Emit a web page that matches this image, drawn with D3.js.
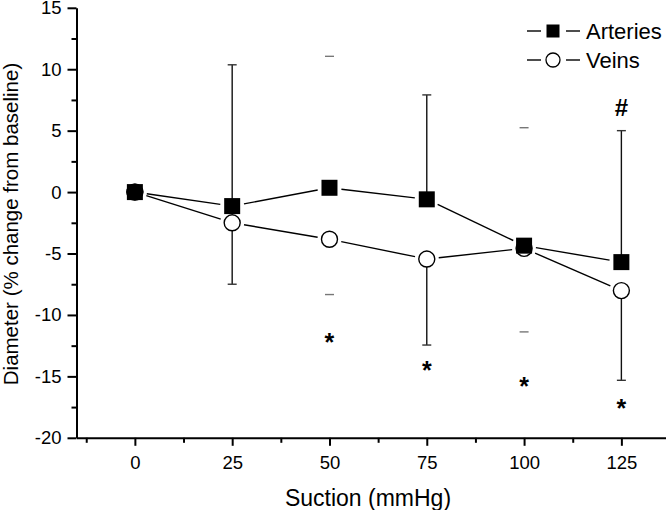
<!DOCTYPE html>
<html>
<head>
<meta charset="utf-8">
<script src="https://cdn.jsdelivr.net/npm/d3@7"></script>
<style>
  html, body { margin: 0; padding: 0; background: #fff; }
  svg { display: block; font-family: "Liberation Sans", Arial, sans-serif; }
</style>
</head>
<body>
<svg id="chart" width="666" height="510"></svg>
<script>
// ---- data ----
const suction = [0, 25, 50, 75, 100, 125];
const arteries = [0, -1.14, 0.35, -0.59, -4.36, -5.7];
const arteriesSD = [0, 11.5, 10.7, 8.5, 9.6, 10.7];   // drawn upward
const veins = [0, -2.5, -3.84, -5.45, -4.58, -8.02];
const veinsSD = [0, 5.0, 4.5, 7.0, 6.8, 7.3];          // drawn downward
const starX = [50, 75, 100, 125];
const starY = [-11.8, -14.1, -15.4, -17.2];
const hashX = [125];
const hashY = [6.9];
const xTicks = [0, 25, 50, 75, 100, 125];
const xMinor = [-12.5, 12.5, 37.5, 62.5, 87.5, 112.5];
const yTicks = [15, 10, 5, 0, -5, -10, -15, -20];
const yMinor = [12.5, 7.5, 2.5, -2.5, -7.5, -12.5, -17.5];
const seriesNames = ["Arteries", "Veins"];

// ---- scales ----
const svg = d3.select("#chart");
const x = d3.scaleLinear().domain([-15, 140]).range([76.5, 76.5 + 155 * 3.892]);
const y = d3.scaleLinear().domain([-20, 15]).range([437.8, 7.8]);

// ---- axes ----
const gx = svg.append("g").attr("transform", `translate(0,${y(-20)})`);
gx.call(d3.axisBottom(x).tickValues(xTicks).tickSize(8).tickSizeOuter(0).tickPadding(10).tickFormat(d => String(d)));
const gxm = svg.append("g").attr("transform", `translate(0,${y(-20)})`);
gxm.call(d3.axisBottom(x).tickValues(xMinor).tickSize(5).tickSizeOuter(0).tickFormat(""));
gxm.select(".domain").remove();

const gy = svg.append("g").attr("transform", `translate(${x(-15)},0)`);
gy.call(d3.axisLeft(y).tickValues(yTicks).tickSize(9).tickSizeOuter(0).tickPadding(6).tickFormat(d => String(d)));
const gym = svg.append("g").attr("transform", `translate(${x(-15)},0)`);
gym.call(d3.axisLeft(y).tickValues(yMinor).tickSize(5).tickSizeOuter(0).tickFormat(""));
gym.select(".domain").remove();

svg.selectAll(".domain").attr("stroke", "#000").attr("stroke-width", 2);
svg.selectAll(".tick line").attr("stroke", "#000").attr("stroke-width", 2);
svg.selectAll(".tick text").attr("font-size", 18.5).attr("fill", "#000")
  .attr("font-family", "Liberation Sans, Arial, sans-serif");

// axis titles
svg.append("text").attr("x", 368).attr("y", 506).attr("text-anchor", "middle")
  .attr("font-size", 23).attr("fill", "#000").text("Suction (mmHg)");
svg.append("text").attr("transform", `translate(18,224) rotate(-90)`).attr("text-anchor", "middle")
  .attr("font-size", 20.5).attr("fill", "#000").text("Diameter (% change from baseline)");

// ---- error bars ----
const hiddenStems = [50, 100];
const capW = 4.5;
function errorBar(xv, y0, y1, faint) {
  const px = x(xv);
  const g = svg.append("g");
  if (!faint) {
    g.append("line").attr("x1", px).attr("x2", px).attr("y1", y(y0)).attr("y2", y(y1))
      .attr("stroke", "#111").attr("stroke-width", 1.4);
  }
  g.append("line").attr("x1", px - capW).attr("x2", px + capW).attr("y1", y(y1)).attr("y2", y(y1))
    .attr("stroke", faint ? "#777" : "#333").attr("stroke-width", 1.4);
}
suction.forEach((s, i) => {
  if (s === 0) return;
  const faint = hiddenStems.includes(s);
  errorBar(s, arteries[i], arteries[i] + arteriesSD[i], faint);
  errorBar(s, veins[i], veins[i] - veinsSD[i], faint);
});

// ---- connecting lines with gaps ----
const gap = 12;
function gappedLine(vals) {
  for (let i = 0; i < vals.length - 1; i++) {
    const x0 = x(suction[i]), y0 = y(vals[i]);
    const x1 = x(suction[i + 1]), y1 = y(vals[i + 1]);
    const dx = x1 - x0, dy = y1 - y0, L = Math.hypot(dx, dy);
    const ux = dx / L, uy = dy / L;
    svg.append("line")
      .attr("x1", x0 + ux * gap).attr("y1", y0 + uy * gap)
      .attr("x2", x1 - ux * gap).attr("y2", y1 - uy * gap)
      .attr("stroke", "#000").attr("stroke-width", 1.4);
  }
}
gappedLine(veins);
gappedLine(arteries);

// ---- markers ----
svg.append("g").selectAll("circle").data(veins).join("circle")
  .attr("cx", (d, i) => x(suction[i])).attr("cy", d => y(d)).attr("r", 8)
  .attr("fill", "#fff").attr("stroke", "#000").attr("stroke-width", 1.4);
svg.append("g").selectAll("rect").data(arteries).join("rect")
  .attr("x", (d, i) => x(suction[i]) - 8).attr("y", d => y(d) - 8)
  .attr("width", 16).attr("height", 16).attr("fill", "#000");
// baseline point: both series overlap at 0
svg.append("circle").attr("cx", x(suction[0])).attr("cy", y(veins[0])).attr("r", 8.5).attr("fill", "#000");

// ---- annotations ----
svg.append("g").selectAll("text").data(starX).join("text")
  .attr("x", d => x(d)).attr("y", (d, i) => y(starY[i]) + 14)
  .attr("text-anchor", "middle").attr("font-size", 25).attr("font-weight", "bold")
  .attr("fill", "#000").text("*");
svg.append("g").selectAll("text").data(hashX).join("text")
  .attr("x", d => x(d)).attr("y", (d, i) => y(hashY[i]) + 8.5)
  .attr("text-anchor", "middle").attr("font-size", 24).attr("font-weight", "bold")
  .attr("fill", "#000").text("#");

// ---- legend ----
const legend = svg.append("g");
const rows = [31, 60];
seriesNames.forEach((name, i) => {
  const g = legend.append("g").attr("transform", `translate(0,${rows[i]})`);
  g.append("line").attr("x1", 527).attr("x2", 541).attr("y1", 0).attr("y2", 0).attr("stroke", "#000").attr("stroke-width", 1.4);
  g.append("line").attr("x1", 566).attr("x2", 580).attr("y1", 0).attr("y2", 0).attr("stroke", "#000").attr("stroke-width", 1.4);
  if (i === 0) {
    g.append("rect").attr("x", 553 - 6.5).attr("y", -6.5).attr("width", 13).attr("height", 13).attr("fill", "#000");
  } else {
    g.append("circle").attr("cx", 553).attr("cy", 0).attr("r", 7).attr("fill", "#fff").attr("stroke", "#000").attr("stroke-width", 1.3);
  }
  g.append("text").attr("x", 586).attr("y", 8).attr("font-size", 22).attr("fill", "#000").text(name);
});
</script>
</body>
</html>
